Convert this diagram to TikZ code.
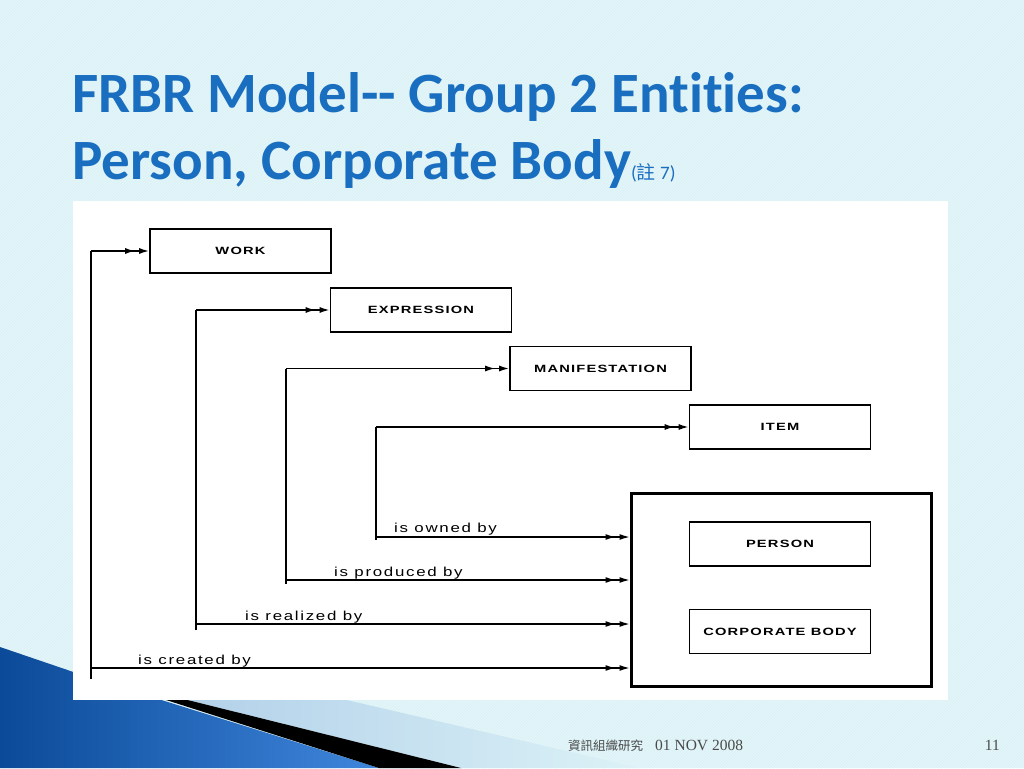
\documentclass[tikz,border=0pt]{standalone}
\usepackage{fontspec}
\setmainfont{Liberation Sans}
\newfontfamily\titlefont{Carlito}[Ligatures=NoCommon]
\newfontfamily\cjk{Noto Sans CJK TC}
\newfontfamily\footserif{Liberation Serif}
\newfontfamily\lblfont{Liberation Sans}[LetterSpace=10]
\newfontfamily\entfont{Liberation Sans}[LetterSpace=8]
\usetikzlibrary{arrows.meta,decorations.markings,patterns}
\definecolor{bgc}{HTML}{DCF2F7}
\definecolor{hatchc}{HTML}{E8F7FA}
\definecolor{titleblue}{HTML}{1A6EC0}
\definecolor{footgray}{HTML}{4A4A4A}
\definecolor{darkblue}{HTML}{0B4A98}
\definecolor{midblue}{HTML}{3F86DC}
\definecolor{paleband}{HTML}{A9C9E6}
\newcommand\entlabel[1]{\scalebox{1.4}[1]{\entfont\bfseries\fontsize{10.5}{12}\selectfont #1}}
\newcommand\rellabel[1]{\scalebox{1.3}[1]{\lblfont\fontsize{13}{15}\selectfont #1}}
\tikzset{
  ent/.style={draw, line width=1.6pt, minimum width=181pt, minimum height=44pt, inner sep=0pt, fill=white},
  grp/.style={draw, line width=3pt, minimum width=300pt, minimum height=193pt, inner sep=0pt},
  vline/.style={line width=2.4pt},
  topline/.style={line width=1.6pt},
  hline/.style={line width=1.2pt},
  dbl/.style={-{Latex[length=10pt,width=6pt]}, postaction={decorate},
    decoration={markings, mark=at position -14pt with {\arrow{Latex[length=10pt,width=6pt]}}}},
  lbl/.style={anchor=west, inner sep=0pt},
  ttl/.style={anchor=base west, inner sep=0pt, text=titleblue, font=\titlefont\bfseries\fontsize{57}{60}\selectfont},
}
\begin{document}
\begin{tikzpicture}[x=1pt,y=-1pt]
\useasboundingbox (0,0) rectangle (1024,768);
% background
\fill[bgc] (0,0) rectangle (1024,768);
\fill[pattern=north east lines, pattern color=hatchc] (0,0) rectangle (1024,768);
% bottom-left decoration
\shade[left color=paleband, right color=bgc] (91,676) -- (461,768) -- (640,768) -- (243,676) -- cycle;
\shade[left color=darkblue, right color=midblue] (0,647) -- (91,678) -- (379,768) -- (0,768) -- cycle;
\fill[black] (91,676) -- (379,768) -- (461,768) -- cycle;
% white panel
\fill[white] (73,201) rectangle (948,700);
% title
\node[ttl] (t1) at (72,112) {FRBR Model-- Group 2 Entities:};
\node[ttl] (t2) at (72,179) {Person, Corporate Body{\fontsize{19}{22}\selectfont\mdseries ({\cjk 註} 7)}};
% entities
\node[ent] (work) at (240.5,251) {\entlabel{WORK}};
\node[ent] (expr) at (421,310) {\entlabel{EXPRESSION}};
\node[ent] (mani) at (600.5,368.5) {\entlabel{MANIFESTATION}};
\node[ent] (item) at (780,427) {\entlabel{ITEM}};
\node[grp] (grp) at (781,589.5) {};
\node[ent] (pers) at (780,544) {\entlabel{PERSON}};
\node[ent] (corp) at (780,631.5) {\entlabel{CORPORATE BODY}};
% relationship coordinates
\coordinate (b1) at (91,679);  \coordinate (h1) at (91,668);
\coordinate (b2) at (196,630); \coordinate (h2) at (196,624);
\coordinate (b3) at (286,584); \coordinate (h3) at (286,580);
\coordinate (b4) at (376,540); \coordinate (h4) at (376,537);
% verticals
\draw[vline] (b1) -- (b1 |- work.west);
\draw[vline] (b2) -- (b2 |- expr.west);
\draw[vline] (b3) -- (b3 |- mani.west);
\draw[vline] (b4) -- (b4 |- item.west);
% upward connectors
\draw[topline,dbl] (b1 |- work.west) -- (work.west);
\draw[topline,dbl] (b2 |- expr.west) -- (expr.west);
\draw[topline,dbl] (b3 |- mani.west) -- (mani.west);
\draw[topline,dbl] (b4 |- item.west) -- (item.west);
% connectors to group 2
\draw[hline,dbl] (h1) -- (h1 -| grp.west);
\draw[hline,dbl] (h2) -- (h2 -| grp.west);
\draw[hline,dbl] (h3) -- (h3 -| grp.west);
\draw[hline,dbl] (h4) -- (h4 -| grp.west);
% labels
\node[lbl] (l4) at (394,529) {\rellabel{is owned by}};
\node[lbl] (l3) at (334,573) {\rellabel{is produced by}};
\node[lbl] (l2) at (245,617) {\rellabel{is realized by}};
\node[lbl] (l1) at (138,661) {\rellabel{is created by}};
% footer
\node[anchor=base west, inner sep=0pt, text=footgray] (foot) at (568,750) {{\cjk\fontsize{12.5}{14}\selectfont 資訊組織研究}\hspace{12pt}{\footserif\fontsize{15.5}{17}\selectfont 01 NOV 2008}};
\node[anchor=base east, inner sep=0pt, text=footgray] (pg) at (1000,750) {\footserif\fontsize{15.5}{17}\selectfont 11};
\end{tikzpicture}
\end{document}
